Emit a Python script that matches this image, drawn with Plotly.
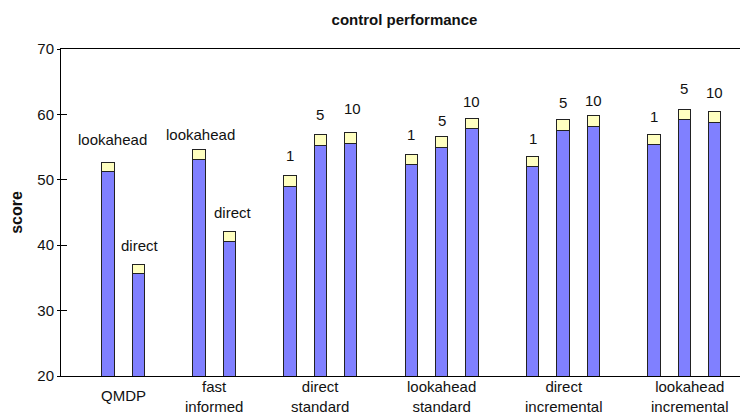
import plotly.graph_objects as go

# ---- data ----
groups = ["QMDP", "fast<br>informed", "direct<br>standard", "lookahead<br>standard",
          "direct<br>incremental", "lookahead<br>incremental"]
bar_labels = [["lookahead", "direct"], ["lookahead", "direct"], ["1", "5", "10"],
              ["1", "5", "10"], ["1", "5", "10"], ["1", "5", "10"]]
base_scores = [[51.2, 35.6], [53.1, 40.6], [49.0, 55.3, 55.6],
               [52.3, 55.0, 57.9], [52.0, 57.6, 58.2], [55.4, 59.2, 58.8]]
total_scores = [[52.7, 37.1], [54.7, 42.1], [50.6, 56.9, 57.2],
                [53.8, 56.6, 59.4], [53.5, 59.2, 59.8], [56.9, 60.8, 60.5]]
y_ticks = [20, 30, 40, 50, 60, 70]

# ---- styles ----
label_yshift = [[23, 19], [15, 19], [20, 20, 24], [20, 16, 17], [18, 17, 15], [18, 21, 19]]
label_xshift = [[4, 2], [1, 4], [0, 0, 2], [0, 0, 0], [0, 0, 0], [0, 0, 0]]
group_yshift = [-19, -20, -20, -20, -20, -20]
group_xshift = [0, 0, 0, 0, 1, 6]
FONT = "Liberation Sans, Arial, sans-serif"
BLUE = "#8080ff"
YELLOW = "#ffffc0"
EDGE = "#222222"
TXT = "#111111"

# slot positions: bars in a group take consecutive slots, one empty slot between groups
xs, base_vals, extra_vals, group_centers = [], [], [], []
slot = 0
for gi, vals in enumerate(base_scores):
    pos = []
    for bi, v in enumerate(vals):
        pos.append(slot)
        xs.append(slot)
        base_vals.append(v)
        extra_vals.append(round(total_scores[gi][bi] - v, 2))
        slot += 1
    group_centers.append(sum(pos) / len(pos))
    slot += 1

fig = go.Figure()
fig.add_trace(go.Bar(x=xs, y=base_vals, width=0.415,
                     marker=dict(color=BLUE, line=dict(color=EDGE, width=1)), hoverinfo="skip"))
fig.add_trace(go.Bar(x=xs, y=extra_vals, width=0.415,
                     marker=dict(color=YELLOW, line=dict(color=EDGE, width=1)), hoverinfo="skip"))
fig.add_trace(go.Scatter(x=[None], y=[None], yaxis="y2", showlegend=False, hoverinfo="skip"))

k = 0
for gi, labs in enumerate(bar_labels):
    for bi, lab in enumerate(labs):
        fig.add_annotation(x=xs[k], y=total_scores[gi][bi], text=lab, showarrow=False,
                           yshift=label_yshift[gi][bi], xshift=label_xshift[gi][bi],
                           font=dict(family=FONT, size=15, color=TXT))
        k += 1

for gi, g in enumerate(groups):
    fig.add_annotation(x=group_centers[gi], y=0, yref="paper", text=g, showarrow=False,
                       yanchor="middle", xanchor="center",
                       yshift=group_yshift[gi], xshift=group_xshift[gi],
                       font=dict(family=FONT, size=15, color=TXT))

# page body has an 8px margin, so the figure is sized/offset to compensate
fig.update_layout(
    width=740, height=406,
    barmode="stack", showlegend=False,
    paper_bgcolor="white", plot_bgcolor="white",
    margin=dict(l=53, r=0, t=41, b=38),
    font=dict(family=FONT, size=15, color=TXT),
    title=dict(text="<b>control performance</b>", x=0.5, xref="paper", xanchor="center",
               y=0.972, yanchor="middle", font=dict(family=FONT, size=15, color=TXT)),
    xaxis=dict(range=[-1.55, 21.1], showticklabels=False, ticks="",
               showline=True, linecolor="black", linewidth=1, mirror=True,
               showgrid=False, zeroline=False),
    yaxis=dict(range=[20, 70], tickmode="array", tickvals=y_ticks, showline=True, linecolor="black",
               linewidth=1, ticks="outside", ticklen=3, tickcolor="black", showgrid=False, zeroline=False,
               tickfont=dict(size=15),
               title=dict(text="<b>score</b>", font=dict(size=16), standoff=10)),
    yaxis2=dict(range=[20, 70], overlaying="y", side="left", tickmode="array", tickvals=y_ticks,
                ticks="inside", ticklen=6, tickcolor="black", showticklabels=False, showline=False,
                showgrid=False, zeroline=False),
)

fig.write_html("out.html")
